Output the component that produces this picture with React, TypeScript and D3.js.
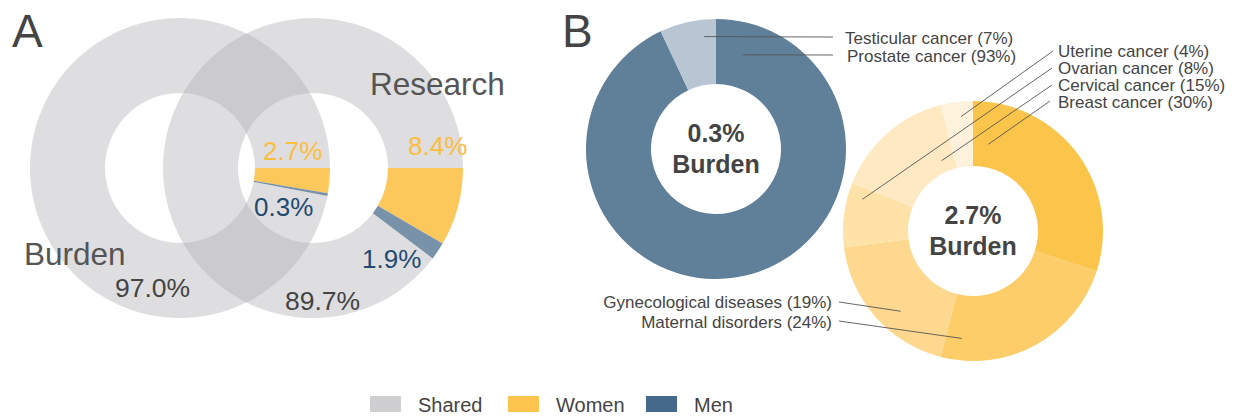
import * as d3 from "d3";
import { useEffect, useRef } from "react";

// panel A: share of burden / research (women, men, shared)
const vennSets = ["Burden", "Research"];
const vennWomen = [2.7, 8.4];
const vennMen = [0.3, 1.9];
const vennShared = [97.0, 89.7];

// panel B: breakdown of the sex-specific burden
const menLabels = ["Prostate cancer", "Testicular cancer"];
const menValues = [93, 7];
const womenLabels = [
  "Breast cancer",
  "Maternal disorders",
  "Gynecological diseases",
  "Ovarian cancer",
  "Cervical cancer",
  "Uterine cancer",
];
const womenValues = [30, 24, 19, 8, 15, 4];

const legendItems = ["Shared", "Women", "Men"];

const FONT = "'Liberation Sans', Arial, Helvetica, sans-serif";
const TEXT = "#444";

export default function App() {
  const svgRef = useRef<SVGSVGElement | null>(null);

  useEffect(() => {
    const svg = d3.select(svgRef.current);
    svg.selectAll("*").remove();
    svg.style("font-family", FONT);

    const pie = d3
      .pie<number>()
      .sort(null)
      .value((d) => d);

    // ---------- panel A ----------
    const ringOuter = 150;
    const ringInner = 75;
    const arcA = d3.arc<any>().innerRadius(ringInner).outerRadius(ringOuter);
    const vennX = d3.scalePoint<string>().domain(vennSets).range([180, 313]);
    const vennY = 168;
    const vennColor = d3
      .scaleOrdinal<string>()
      .domain(["Women", "Men", "Shared"])
      .range(["#fcc85b", "#7892a9", "#b4b3b8"]);

    vennSets.forEach((name, i) => {
      const vals = [vennWomen[i], vennMen[i], vennShared[i]];
      const keys = ["Women", "Men", "Shared"];
      const arcs = d3
        .pie<number>()
        .sort(null)
        .value((d) => d)
        .startAngle(Math.PI / 2)
        .endAngle(Math.PI / 2 + 2 * Math.PI)(vals);
      const g = svg
        .append("g")
        .attr("transform", `translate(${vennX(name)},${vennY})`);
      g.selectAll("path")
        .data(arcs)
        .join("path")
        .attr("d", arcA)
        .attr("fill", (_, j) => vennColor(keys[j]))
        .attr("fill-opacity", (_, j) => (keys[j] === "Shared" ? 0.44 : 1));
    });

    const bigLabel = (x: number, y: number, t: string, size: number, fill: string) =>
      svg
        .append("text")
        .attr("x", x)
        .attr("y", y)
        .attr("font-size", size)
        .attr("fill", fill)
        .text(t);

    bigLabel(12, 47, "A", 46, TEXT);
    bigLabel(24, 265, vennSets[0], 31.5, "#555");
    bigLabel(370, 95, vennSets[1], 31.5, "#555");
    bigLabel(115, 297, vennShared[0].toFixed(1) + "%", 26.5, TEXT);
    bigLabel(285, 310, vennShared[1].toFixed(1) + "%", 26.5, TEXT);
    bigLabel(263, 160, vennWomen[0].toFixed(1) + "%", 26, "#fbbd3f");
    bigLabel(408, 155, vennWomen[1].toFixed(1) + "%", 26, "#fbbd3f");
    bigLabel(254, 216, vennMen[0].toFixed(1) + "%", 26, "#1f4b72");
    bigLabel(362, 268, vennMen[1].toFixed(1) + "%", 26, "#1f4b72");

    // ---------- panel B ----------
    bigLabel(562, 47, "B", 46, TEXT);

    const donut = (
      cx: number,
      cy: number,
      values: number[],
      colors: string[],
      burden: string
    ) => {
      const g = svg.append("g").attr("transform", `translate(${cx},${cy})`);
      const arc = d3.arc<any>().innerRadius(65).outerRadius(130);
      g.selectAll("path")
        .data(pie(values))
        .join("path")
        .attr("d", arc)
        .attr("fill", (_, i) => colors[i]);
      g.append("text")
        .attr("text-anchor", "middle")
        .attr("y", -7)
        .attr("font-size", 25)
        .attr("font-weight", "bold")
        .attr("fill", TEXT)
        .text(burden);
      g.append("text")
        .attr("text-anchor", "middle")
        .attr("y", 24)
        .attr("font-size", 25)
        .attr("font-weight", "bold")
        .attr("fill", TEXT)
        .text("Burden");
      return g;
    };

    const men = { cx: 716, cy: 149 };
    const women = { cx: 973, cy: 231 };
    donut(men.cx, men.cy, menValues, ["#607f98", "#b8c6d3"], "0.3%");
    donut(
      women.cx,
      women.cy,
      womenValues,
      ["#fbc44b", "#fccd69", "#fdd88e", "#fee2a8", "#fee9c3", "#fff2dd"],
      "2.7%"
    );

    // leader lines: [angle deg, radius] inside the slice -> label anchor
    const polar = (c: { cx: number; cy: number }, deg: number, r: number) => {
      const a = (deg * Math.PI) / 180;
      return [c.cx + r * Math.sin(a), c.cy - r * Math.cos(a)];
    };
    const callouts = [
      { c: men, name: menLabels[1], v: menValues[1], deg: 354, r: 113, lx: 833, ly: 37, tx: 845, ty: 44, anchor: "start" },
      { c: men, name: menLabels[0], v: menValues[0], deg: 16, r: 98, lx: 833, ly: 55, tx: 847, ty: 62, anchor: "start" },
      { c: women, name: womenLabels[5], v: womenValues[5], deg: 354, r: 115, lx: 1053, ly: 51, tx: 1058, ty: 57, anchor: "start" },
      { c: women, name: womenLabels[3], v: womenValues[3], deg: 286, r: 115, lx: 1052, ly: 68, tx: 1058, ty: 74, anchor: "start" },
      { c: women, name: womenLabels[4], v: womenValues[4], deg: 336, r: 77, lx: 1052, ly: 85, tx: 1058, ty: 91, anchor: "start" },
      { c: women, name: womenLabels[0], v: womenValues[0], deg: 10, r: 88, lx: 1050, ly: 101, tx: 1058, ty: 108, anchor: "start" },
      { c: women, name: womenLabels[2], v: womenValues[2], deg: 222, r: 108, lx: 839, ly: 302, tx: 832, ty: 308, anchor: "end" },
      { c: women, name: womenLabels[1], v: womenValues[1], deg: 186, r: 108, lx: 839, ly: 321, tx: 832, ty: 328, anchor: "end" },
    ];
    callouts.forEach((d) => {
      const [x2, y2] = polar(d.c, d.deg, d.r);
      svg
        .append("line")
        .attr("x1", d.lx)
        .attr("y1", d.ly)
        .attr("x2", x2)
        .attr("y2", y2)
        .attr("stroke", "#555")
        .attr("stroke-width", 0.9);
      svg
        .append("text")
        .attr("x", d.tx)
        .attr("y", d.ty)
        .attr("text-anchor", d.anchor)
        .attr("font-size", 17)
        .attr("fill", TEXT)
        .text(`${d.name} (${d.v}%)`);
    });

    // ---------- legend ----------
    const legendX = d3
      .scalePoint<string>()
      .domain(legendItems)
      .range([370, 646]);
    const legendColor = d3
      .scaleOrdinal<string>()
      .domain(legendItems)
      .range(["#cfcfd1", "#fcc44c", "#45698a"]);
    const lg = svg
      .selectAll("g.legend")
      .data(legendItems)
      .join("g")
      .attr("class", "legend")
      .attr("transform", (d) => `translate(${legendX(d)},396)`);
    lg.append("rect")
      .attr("width", 31)
      .attr("height", 16)
      .attr("fill", (d) => legendColor(d));
    lg.append("text")
      .attr("x", 48)
      .attr("y", 16)
      .attr("font-size", 20)
      .attr("fill", TEXT)
      .text((d) => d);
  }, []);

  return (
    <svg
      ref={svgRef}
      width={1236}
      height={419}
      style={{ position: "absolute", left: 0, top: 0, background: "#fff" }}
    />
  );
}
